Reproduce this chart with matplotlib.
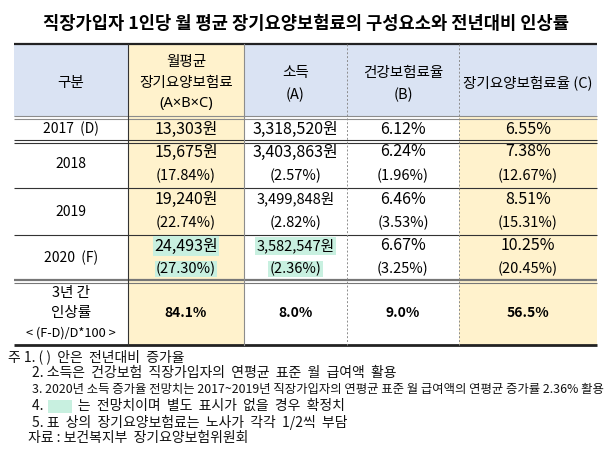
import matplotlib
matplotlib.use("Agg")
import matplotlib.pyplot as plt
from matplotlib.patches import Rectangle

plt.rcParams['font.family'] = ['Noto Sans CJK KR', 'DejaVu Sans']

# ---------------- data ----------------
title = "직장가입자 1인당 월 평균 장기요양보험료의 구성요소와 전년대비 인상률"
header_labels = ["구분", "월평균\n장기요양보험료\n(A×B×C)", "소득\n(A)", "건강보험료율\n(B)", "장기요양보험료율 (C)"]
years = ["2017  (D)", "2018", "2019", "2020  (F)"]
premium = [13303, 15675, 19240, 24493]
premium_chg = [None, 17.84, 22.74, 27.30]
income = [3318520, 3403863, 3499848, 3582547]
income_chg = [None, 2.57, 2.82, 2.36]
health_rate = [6.12, 6.24, 6.46, 6.67]
health_chg = [None, 1.96, 3.53, 3.25]
ltc_rate = [6.55, 7.38, 8.51, 10.25]
ltc_chg = [None, 12.67, 15.31, 20.45]
three_year_label = ["3년 간", "인상률", "< (F-D)/D*100 >"]
three_year = [84.1, 8.0, 9.0, 56.5]
notes = [
    "주 1. ( )  안은  전년대비  증가율",
    "2. 소득은  건강보험  직장가입자의  연평균  표준  월  급여액  활용",
    "3. 2020년 소득 증가율 전망치는 2017~2019년 직장가입자의 연평균 표준 월 급여액의 연평균 증가률 2.36% 활용",
    "4.           는  전망치이며  별도  표시가  없을  경우  확정치",
    "5. 표  상의  장기요양보험료는  노사가  각각  1/2씩  부담",
    "자료 : 보건복지부  장기요양보험위원회",
]

# ---------------- layout ----------------
W, H = 612, 450
fig = plt.figure(figsize=(W / 100, H / 100), dpi=100)
ax = fig.add_axes([0, 0, 1, 1])
ax.set_xlim(0, W)
ax.set_ylim(H, 0)
ax.axis('off')

X = [14, 128, 244, 347, 459, 597]
Y = [44, 117, 141, 188, 235, 281, 345]
BLUE = '#dae3f3'
YEL = '#fff2cc'
GREEN = '#c8f0e0'
DARK = '#333333'
GREY = '#8c8c8c'

def fill(x0, x1, y0, y1, c):
    ax.add_patch(Rectangle((x0, y0), x1 - x0, y1 - y0, facecolor=c, edgecolor='none', zorder=0))

# header fills
for c in range(5):
    fill(X[c], X[c + 1], Y[0], Y[1], YEL if c == 1 else BLUE)
# body fills
for r in range(1, 6):
    for c in (1, 4):
        fill(X[c], X[c + 1], Y[r], Y[r + 1], YEL)

# horizontal lines
def hline(y, lw, col):
    ax.plot([X[0], X[-1]], [y, y], color=col, lw=lw, solid_capstyle='butt', zorder=3)

hline(44, 1.6, '#222222')
hline(116, 0.8, GREY); hline(118.5, 0.8, GREY)
hline(140, 0.8, DARK); hline(142.5, 0.8, DARK)
hline(188, 0.8, DARK)
hline(235, 0.8, DARK)
hline(279.5, 1.6, '#777777'); hline(283, 0.8, '#777777')
hline(345, 2.0, '#222222')

# vertical lines
ax.plot([X[1], X[1]], [Y[0], Y[-1]], color=DARK, lw=0.8, zorder=3)
ax.plot([X[2], X[2]], [Y[0], Y[-1]], color=GREY, lw=0.8, zorder=3)
for x in (X[3], X[4]):
    ax.plot([x, x], [Y[0], Y[-1]], color=GREY, lw=0.7, ls=(0, (2, 2)), zorder=3)

cx = [(X[i] + X[i + 1]) / 2 for i in range(5)]
FS = 10.5

# header texts
ax.text(cx[0], 83, header_labels[0], ha='center', va='center', fontsize=FS, fontweight='medium')
for i, t in enumerate(header_labels[1].split("\n")):
    fam = ['Noto Sans', 'DejaVu Sans'] if i == 2 else None
    ax.text(cx[1], [62, 83, 104][i], t, ha='center', va='center', fontsize=FS,
            fontweight='medium', family=fam)
for c in (2, 3):
    for i, t in enumerate(header_labels[c].split("\n")):
        ax.text(cx[c], [73, 95][i], t, ha='center', va='center', fontsize=FS, fontweight='medium')
ax.text(cx[4], 83, header_labels[4], ha='center', va='center', fontsize=FS, fontweight='medium')

# body
hl = dict(boxstyle='square,pad=0.08', facecolor=GREEN, edgecolor='none')
for r in range(4):
    y0, y1 = Y[r + 1], Y[r + 2]
    if premium_chg[r] is None:
        yv = (y0 + y1) / 2
        ylab = yv
    else:
        yv = y0 + 11
        yc = y1 - 12
        ylab = (y0 + y1) / 2
    forecast = (r == 3)
    ax.text(cx[0], ylab, years[r], ha='center', va='center', fontsize=FS - 0.5)
    ax.text(cx[1], yv, f"{premium[r]:,}원", ha='center', va='center', fontsize=FS + 1,
            bbox=hl if forecast else None)
    ax.text(cx[2], yv, f"{income[r]:,}원", ha='center', va='center', fontsize=FS + 1 if r < 2 else FS,
            bbox=hl if forecast else None)
    ax.text(cx[3], yv, f"{health_rate[r]:.2f}%", ha='center', va='center', fontsize=FS + 1)
    ax.text(cx[4], yv, f"{ltc_rate[r]:.2f}%", ha='center', va='center', fontsize=FS + 1)
    if premium_chg[r] is not None:
        ax.text(cx[1], yc, f"({premium_chg[r]:.2f}%)", ha='center', va='center', fontsize=FS,
                bbox=hl if forecast else None)
        ax.text(cx[2], yc, f"({income_chg[r]:.2f}%)", ha='center', va='center', fontsize=FS,
                bbox=hl if forecast else None)
        ax.text(cx[3], yc, f"({health_chg[r]:.2f}%)", ha='center', va='center', fontsize=FS)
        ax.text(cx[4], yc, f"({ltc_chg[r]:.2f}%)", ha='center', va='center', fontsize=FS)

# 3-year row
for i, t in enumerate(three_year_label):
    ax.text(cx[0], [293, 313, 333][i], t, ha='center', va='center',
            fontsize=FS if i < 2 else FS - 1.3)
for c in range(4):
    ax.text(cx[c + 1], 313, f"{three_year[c]:.1f}%", ha='center', va='center',
            fontsize=FS - 0.5, fontweight='bold')

# title
ax.text(W / 2, 24, title, ha='center', va='center', fontsize=12.7, fontweight='bold')

# notes
note_y = [357, 373, 390, 406, 422, 438]
note_x = [8, 32, 32, 32, 32, 28]
note_fs = [10, 10, 8.9, 10, 10, 10]
for i, t in enumerate(notes):
    ax.text(note_x[i], note_y[i], t, ha='left', va='center', fontsize=note_fs[i], color='#111111')
fill(48, 72, 400, 413, GREEN)

fig.savefig("out.png", dpi=100)
